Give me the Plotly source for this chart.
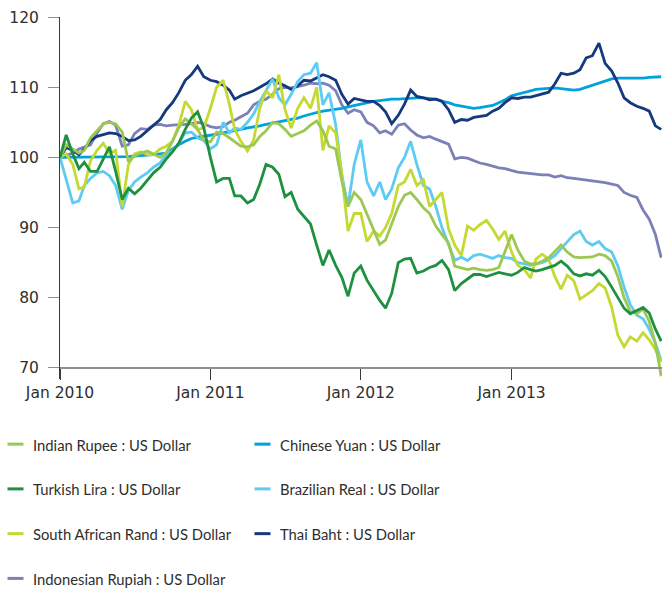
import plotly.graph_objects as go

# ---------------- data (index, Jan 2010 = 100), semi-monthly readings ----------------
dates = [f"{y}-{m:02d}-{d:02d}" for y in range(2010, 2014) for m in range(1, 13) for d in (1, 16)] + ["2013-12-30"]

indian_rupee = [
    100.0, 101.8, 101.2, 100.6, 101.0, 102.8, 103.8, 104.8,
    105.0, 104.8, 103.6, 99.4, 100.2, 100.6, 100.9, 100.5,
    100.0, 100.7, 102.3, 104.2, 105.5, 104.8, 104.0, 102.4,
    102.2, 103.6, 103.4, 102.8, 102.3, 101.6, 101.5, 101.8,
    103.0, 103.8, 105.0, 104.8, 104.0, 103.0, 103.4, 103.8,
    104.6, 105.2, 103.8, 101.6, 101.2, 96.6, 93.0, 95.0,
    94.0, 92.0, 89.8, 87.6, 88.2, 90.5, 93.0, 94.6,
    95.0, 94.0, 92.8, 92.0, 90.2, 89.0, 87.8, 84.5,
    84.2, 84.0, 84.2, 84.0, 83.9, 84.0, 84.3, 86.5,
    89.0, 86.8, 85.2, 84.8, 84.8, 85.2, 85.7, 86.6,
    87.5, 86.5, 85.8, 85.7, 85.8, 85.8, 86.2, 86.0,
    85.2, 83.0, 80.0, 78.0, 77.7, 78.4, 76.6, 73.5,
    68.8,
]

turkish_lira = [
    100.0, 103.2, 100.5, 98.4, 99.3, 98.0, 98.0, 99.8,
    101.5, 98.0, 94.0, 95.6, 94.8, 95.6, 96.8, 97.8,
    98.6, 99.8, 100.8, 102.0, 104.0, 105.6, 106.5, 104.2,
    100.0, 96.5, 97.0, 97.0, 94.5, 94.5, 93.5, 94.0,
    96.2, 99.0, 98.6, 97.6, 94.4, 95.0, 92.6, 91.6,
    90.5, 87.5, 84.6, 86.8, 84.6, 82.9, 80.2, 83.5,
    84.5, 82.5, 81.0, 79.6, 78.5, 80.6, 85.0, 85.5,
    85.6, 83.5, 83.8, 84.3, 84.6, 85.3, 84.0, 81.0,
    82.0, 82.6, 83.3, 83.3, 83.0, 83.3, 83.6, 83.4,
    83.2, 83.6, 84.3, 84.0, 83.8, 84.0, 84.3, 84.6,
    85.2, 84.5, 83.4, 83.1, 83.4, 83.2, 83.9, 83.0,
    81.5, 80.0, 78.5, 77.7, 78.2, 78.6, 77.8, 75.5,
    73.8,
]

south_african_rand = [
    100.0, 100.5, 99.0, 95.5, 95.8, 99.5, 101.0, 102.0,
    100.6, 101.0, 93.0, 99.0, 100.5, 100.8, 100.4, 100.4,
    101.2, 101.6, 102.3, 104.5, 108.0, 106.8, 104.0, 104.2,
    107.0, 110.0, 111.0, 107.6, 104.0, 102.3, 100.9, 102.5,
    107.0, 109.5, 108.5, 111.8, 106.8, 104.2, 107.0, 108.5,
    107.0, 110.0, 101.0, 104.5, 103.5, 97.6, 89.5, 92.0,
    92.0, 88.0, 89.5, 88.8, 90.0, 92.0, 96.0, 96.5,
    98.3, 96.0, 96.8, 93.0, 94.0, 95.0, 89.8, 87.5,
    86.0, 90.2, 89.6, 90.4, 91.0, 89.8, 88.3, 89.5,
    86.5, 84.6, 84.0, 82.8, 85.5, 86.2, 85.5, 83.0,
    81.2, 83.2, 82.4, 79.8, 80.4, 81.0, 82.0, 81.4,
    78.6, 74.6, 73.0, 74.4, 73.8, 75.0, 74.0, 72.6,
    70.8,
]

indonesian_rupiah = [
    100.0, 100.3, 100.6, 101.2, 101.5, 101.8, 103.5, 104.8,
    105.1, 104.6, 101.6, 101.8, 103.4, 104.1, 104.0, 104.6,
    104.7, 104.5, 104.6, 104.6, 104.7, 104.8, 105.0, 104.8,
    104.4, 104.2, 104.4, 105.0, 105.3, 105.8, 106.3, 107.5,
    108.0, 108.3, 109.0, 109.8, 110.0, 109.9, 110.1, 110.3,
    110.6, 110.5, 110.6, 110.3, 109.5, 107.5, 106.3, 106.8,
    106.5, 105.0, 104.5, 103.5, 103.8, 103.3, 104.6, 104.8,
    103.9, 103.2, 102.8, 103.0, 102.6, 102.3, 101.9, 99.8,
    100.0, 99.9, 99.5, 99.2, 99.0, 98.7, 98.5, 98.4,
    98.1, 97.9, 97.8, 97.7, 97.6, 97.5, 97.5, 97.2,
    97.4, 97.1, 97.0, 96.9, 96.8, 96.7, 96.6, 96.4,
    96.2, 96.0, 95.0, 94.6, 94.3, 92.5, 91.2, 89.0,
    85.7,
]

chinese_yuan = [
    100.0, 100.0, 100.0, 100.0, 100.0, 100.0, 100.0, 100.0,
    100.0, 100.0, 100.1, 100.1, 100.2, 100.3, 100.4, 100.4,
    100.5, 100.6, 101.2, 101.8, 102.3, 102.7, 102.9, 103.0,
    103.2, 103.3, 103.5, 103.7, 103.9, 104.0, 104.2, 104.3,
    104.5, 104.7, 104.9, 105.1, 105.3, 105.4, 105.6, 105.9,
    106.2, 106.4, 106.6, 106.7, 106.9, 107.0, 107.2, 107.4,
    107.6, 107.8, 108.0, 108.1, 108.2, 108.3, 108.3, 108.4,
    108.5, 108.5, 108.5, 108.4, 108.3, 108.0, 107.8, 107.5,
    107.3, 107.1, 107.0, 107.1, 107.2, 107.4, 107.8, 108.2,
    108.8, 109.0, 109.3, 109.5, 109.7, 109.8, 109.9, 109.9,
    109.8, 109.7, 109.6, 109.7, 110.0, 110.3, 110.6, 110.9,
    111.2, 111.3, 111.3, 111.2, 111.2, 111.3, 111.4, 111.5,
    111.5,
]

brazilian_real = [
    100.0, 97.0, 93.5, 93.8, 96.0, 97.0, 97.8, 98.0,
    97.4, 96.0, 92.6, 95.3, 96.5, 97.2, 97.8, 98.6,
    99.2, 100.4, 101.0, 102.0, 103.5, 103.6, 102.8, 102.4,
    101.2, 101.8, 105.0, 103.5, 104.2, 104.0, 105.0, 106.2,
    108.0, 109.5, 111.2, 108.5, 107.5, 109.0, 110.8, 111.8,
    112.0, 113.5, 107.5, 109.2, 104.7, 97.5, 93.0, 99.0,
    102.5, 96.5, 94.5, 96.5, 94.0, 95.5, 98.5, 100.0,
    102.3, 99.0, 96.0, 95.5, 93.0, 90.0, 87.5, 85.3,
    85.8, 85.3, 86.0, 86.2, 85.9, 85.6, 86.0, 85.7,
    85.6, 85.0, 84.8, 84.6, 84.8, 85.0, 85.4, 86.0,
    87.0, 88.0, 89.0, 89.5, 88.0, 87.5, 88.0, 87.0,
    86.5, 84.5, 81.5, 79.0, 77.5, 77.0, 75.5, 73.5,
    71.0,
]

thai_baht = [
    100.0, 101.4, 101.0, 100.4, 101.2, 102.4, 103.0, 103.2,
    103.5, 103.4, 103.0, 102.4, 102.5, 103.0, 103.8, 104.6,
    105.4, 106.8, 107.8, 109.2, 111.0, 111.8, 113.0, 111.5,
    111.0, 110.8, 110.3, 109.6, 108.3, 108.8, 109.2, 109.5,
    110.0, 110.5, 111.2, 110.6, 110.2, 109.7, 110.2, 111.0,
    110.9, 111.4, 111.8, 111.5, 111.0, 109.0, 107.6, 108.4,
    108.2, 108.0, 108.0, 107.4, 106.5, 104.8, 106.0, 107.6,
    109.6, 108.7, 108.5, 108.2, 108.3, 108.0, 106.8, 105.0,
    105.4, 105.3, 105.7, 105.8, 106.0, 106.6, 107.0, 107.8,
    108.5, 108.4, 108.6, 108.6, 108.8, 109.0, 109.3, 110.5,
    112.0, 111.8, 112.0, 112.5, 114.2, 114.5, 116.3, 113.4,
    112.3, 110.6, 108.5, 107.8, 107.3, 107.0, 106.6, 104.5,
    104.0,
]

series_names = [
    "Indian Rupee : US Dollar", "Turkish Lira : US Dollar",
    "South African Rand : US Dollar", "Indonesian Rupiah : US Dollar",
    "Chinese Yuan : US Dollar", "Brazilian Real : US Dollar",
    "Thai Baht : US Dollar",
]
series_values = [indian_rupee, turkish_lira, south_african_rand, indonesian_rupiah,
                 chinese_yuan, brazilian_real, thai_baht]

y_ticks = [70, 80, 90, 100, 110, 120]
x_tick_dates = ["2010-01-01", "2011-01-01", "2012-01-01", "2013-01-01"]
x_tick_labels = ["Jan 2010", "Jan 2011", "Jan 2012", "Jan 2013"]

# ---------------- styling ----------------
colors = ["#9cc852", "#1e9140", "#c4d932", "#7c80b8", "#00a2de", "#5dcbf3", "#14397d"]
draw_order = [3, 4, 6, 5, 2, 0, 1]
legend_slots = [(0, 0), (0, 1), (0, 2), (0, 3), (1, 0), (1, 1), (1, 2)]  # (column, row)

W, H = 671, 589
L, R, T, B = 60, 9, 15, 210
PW, PH = W - L - R, H - T - B
Y_MIN, Y_MAX = 68.4, 120.0
LEGEND_FONT = "Lato"
TICK_FONT = "DejaVu Sans"
TEXT_COLOR = "#2e2e2e"


def px_to_paper_x(px):
    return (px - L) / PW


def py_to_paper_y(py):
    return (H - B - py) / PH


fig = go.Figure()
for k in draw_order:
    fig.add_trace(go.Scatter(
        x=dates, y=series_values[k], mode="lines", name=series_names[k],
        line=dict(color=colors[k], width=2.8), showlegend=False, hoverinfo="skip",
    ))

# manual legend (short swatches, two columns)
row_y = [444.5, 489.5, 534.5, 579.5]
swatch_x = [(7.5, 23.5), (254.5, 270.5)]
text_x = [30.5, 277.5]
shapes, annotations = [], []
for k, (c, r) in enumerate(legend_slots):
    yy = py_to_paper_y(row_y[r])
    shapes.append(dict(type="line", xref="paper", yref="paper",
                       x0=px_to_paper_x(swatch_x[c][0]), x1=px_to_paper_x(swatch_x[c][1]),
                       y0=yy, y1=yy, line=dict(color=colors[k], width=3)))
    annotations.append(dict(xref="paper", yref="paper", x=px_to_paper_x(text_x[c]),
                            y=py_to_paper_y(row_y[r] + 0.5), xanchor="left", yanchor="middle",
                            showarrow=False, text=series_names[k],
                            font=dict(family=LEGEND_FONT, size=14.8, color=TEXT_COLOR)))

fig.update_layout(
    width=W, height=H,
    margin=dict(l=L, r=R, t=T, b=B, pad=0),
    paper_bgcolor="white", plot_bgcolor="white",
    showlegend=False,
    shapes=shapes, annotations=annotations,
    font=dict(family=LEGEND_FONT, size=15, color=TEXT_COLOR),
    xaxis=dict(
        type="date", range=["2010-01-01", "2014-01-01"],
        tickmode="array", tickvals=x_tick_dates, ticktext=x_tick_labels,
        showgrid=False, zeroline=False,
        showline=True, linecolor="#8f8f8f", linewidth=2,
        ticks="outside", ticklen=11, tickwidth=1, tickcolor="#3a3a3a",
        anchor="free", position=(70 - Y_MIN) / (Y_MAX - Y_MIN),
        tickfont=dict(family=TICK_FONT, size=15.5, color=TEXT_COLOR),
    ),
    yaxis=dict(
        range=[Y_MIN, Y_MAX + 0.02], tickmode="array", tickvals=y_ticks,
        showgrid=False, zeroline=False,
        showline=True, linecolor="#3a3a3a", linewidth=1,
        ticks="outside", ticklen=11, tickwidth=1, tickcolor="#8f8f8f",
        ticklabelstandoff=6,
        tickfont=dict(family=TICK_FONT, size=15.5, color=TEXT_COLOR),
    ),
)

fig.write_html("out.html", config={"displayModeBar": False},
               post_script="document.body.style.margin='0';")
